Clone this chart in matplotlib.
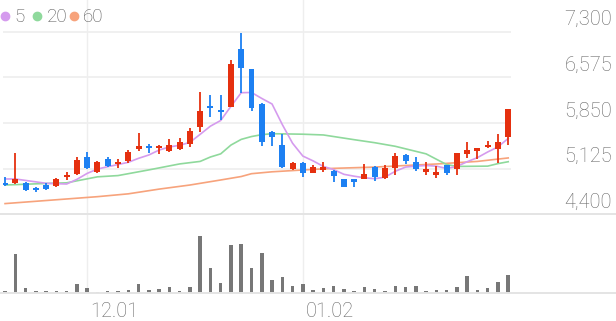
import matplotlib
matplotlib.use("Agg")
import matplotlib.pyplot as plt
from matplotlib.lines import Line2D
import numpy as np

# daily candles (price in won)
opens = [4900, 4890, 4900, 4820, 4860, 4850, 4990, 5040, 5315, 5075,
         5275, 5200, 5240, 5435, 5490, 5450, 5405, 5435, 5510, 5790,
         6115, 6060, 6105, 7020, 6710, 6150, 5710, 5500, 5120, 5220,
         5060, 5105, 5090, 4965, 4955, 4965, 5145, 4970, 5130, 5345,
         5225, 5075, 5025, 5185, 5120, 5360, 5410, 5475, 5435, 5625]
highs = [4990, 5380, 4910, 4840, 4890, 4970, 5070, 5305, 5395, 5250,
         5305, 5275, 5420, 5685, 5520, 5495, 5595, 5605, 5775, 6345,
         6295, 6295, 6845, 7275, 6715, 6165, 5720, 5675, 5235, 5225,
         5185, 5235, 5100, 4965, 4960, 5200, 5165, 5185, 5380, 5350,
         5315, 5235, 5165, 5190, 5375, 5555, 5460, 5570, 5675, 6075]
lows = [4850, 4875, 4775, 4760, 4785, 4840, 4945, 5025, 5125, 5050,
        5155, 5130, 5215, 5405, 5370, 5355, 5395, 5425, 5475, 5710,
        5950, 5900, 6100, 6320, 6045, 5490, 5490, 5130, 5105, 5000,
        5050, 5075, 4920, 4835, 4830, 4955, 4935, 4955, 5025, 5200,
        5085, 5025, 4970, 5025, 5025, 5290, 5275, 5450, 5210, 5500]
closes = [4870, 4965, 4785, 4785, 4805, 4965, 5030, 5260, 5135, 5235,
          5165, 5235, 5395, 5490, 5450, 5490, 5500, 5555, 5725, 6040,
          6085, 6020, 6780, 6725, 6090, 5555, 5625, 5155, 5220, 5060,
          5155, 5155, 5015, 4840, 4920, 5040, 4990, 5130, 5325, 5250,
          5115, 5125, 5075, 5060, 5370, 5420, 5455, 5505, 5555, 6070]
# volume, thousand shares
volumes = [20, 390, 50, 20, 20, 20, 27, 90, 50, 17,
           20, 20, 33, 90, 30, 43, 60, 27, 67, 577,
           250, 103, 483, 490, 257, 400, 133, 167, 70, 97,
           30, 50, 70, 43, 27, 60, 47, 23, 70, 60,
           70, 27, 37, 33, 63, 177, 33, 50, 117, 183]

# moving averages
ma5 = [4961, 4961, 4938, 4915, 4892, 4886, 4881, 4955, 5050, 5119,
       5156, 5190, 5226, 5289, 5342, 5420, 5470, 5495, 5543, 5670,
       5800, 5890, 6115, 6331, 6335, 6240, 6152, 5825, 5528, 5325,
       5248, 5160, 5110, 5035, 5005, 4980, 4965, 4990, 5083, 5150,
       5165, 5175, 5165, 5128, 5160, 5235, 5300, 5390, 5470, 5605]
ma20_idx = [0, 4, 6, 9, 11, 14, 17, 19, 20, 21, 22, 23, 24, 25, 26, 29,
            31, 34, 36, 38, 41, 43, 44, 47, 48, 49]
ma20 = [4865, 4890, 4900, 4995, 5015, 5105, 5200, 5240, 5310, 5360, 5500,
        5590, 5635, 5665, 5680, 5672, 5660, 5585, 5537, 5480, 5360, 5190,
        5160, 5165, 5205, 5235]
ma60_idx = [0, 9, 12, 15, 18, 21, 23, 24, 26, 29, 32, 36, 39, 42, 46, 49]
ma60 = [4570, 4680, 4725, 4800, 4865, 4945, 5000, 5045, 5075, 5104, 5130,
        5150, 5175, 5199, 5240, 5295]

yticks = [4400, 5125, 5850, 6575, 7300]
date_idx = [8, 29]
date_labels = ["12.01", "01.02"]

RED = "#E5300F"
BLUE = "#1D80F2"
C5, C20, C60 = "#D59BEE", "#8FD99C", "#F7A37C"
GRID = "#EEEEEE"
TXT = "#666666"

plt.rcParams["font.family"] = ["Roboto", "DejaVu Sans"]

W, H = 616, 321
fig = plt.figure(figsize=(W / 100, H / 100), dpi=100)

# pixel geometry
left, right = 3, 511
price_bottom, vol_bottom = 214.3, 293.3
px_per_won = (214.3 - 31.7) / 2900.0

ax = fig.add_axes([left / W, (H - price_bottom) / H, (right - left) / W, price_bottom / H])
axv = fig.add_axes([left / W, (H - vol_bottom) / H, (right - left) / W,
                    (vol_bottom - price_bottom) / H], sharex=ax)

x = np.arange(len(opens))
o, c = np.array(opens), np.array(closes)
colors = np.where(c >= o, RED, BLUE)

for a in (ax, axv):
    for s in a.spines.values():
        s.set_visible(False)
    a.tick_params(left=False, bottom=False, labelleft=False, labelbottom=False)
    for d in date_idx:
        a.axvline(d, color=GRID, lw=1, zorder=0)

ax.set_ylim(4400, 4400 + price_bottom / px_per_won)
ax.set_xlim(-0.2, 49.27)
for v in yticks[1:]:
    ax.axhline(v, color=GRID, lw=1.2, zorder=0)

ax.plot(ma60_idx, ma60, color=C60, lw=1.2, zorder=1)
ax.plot(ma20_idx, ma20, color=C20, lw=1.2, zorder=1)
ax.plot(x, ma5, color=C5, lw=1.2, zorder=1)

ax.vlines(x, lows, highs, colors=colors, lw=1.3, zorder=2)
ax.bar(x, np.maximum(np.abs(c - o), 25), bottom=np.minimum(o, c), width=0.58,
       color=colors, lw=0, zorder=3)

axv.bar(x, volumes, width=0.34, color="#777777", lw=0)
axv.set_ylim(0, (vol_bottom - price_bottom) * 10)

# y labels sit just above their grid lines
for v in yticks:
    ax.annotate(f"{v:,}", xy=(1, v), xycoords=("axes fraction", "data"),
                xytext=(612 - right, 6.5), textcoords="offset pixels",
                ha="right", va="baseline", fontsize=14.4, color=TXT,
                fontweight="light", annotation_clip=False)

for d, lab in zip(date_idx, date_labels):
    axv.annotate(lab, xy=(d, 0), xycoords="data", xytext=(3, -23.4),
                 textcoords="offset pixels", ha="left", va="baseline",
                 fontsize=14.4, color=TXT, fontweight="light", annotation_clip=False)

# full-width separator lines
for yp in (price_bottom, vol_bottom):
    fig.add_artist(Line2D([0, 1], [(H - yp) / H] * 2, color="#E4E4E4", lw=1.4,
                          transform=fig.transFigure))

# legend
for cx, tx, col, lab in [(4.5, 14, C5, "5"), (37, 46.5, C20, "20"), (74, 83, C60, "60")]:
    fig.add_artist(Line2D([cx / W], [(H - 16) / H], marker="o", markersize=6,
                          color=col, lw=0, transform=fig.transFigure))
    fig.text(tx / W, (H - 21.7) / H, lab, fontsize=13.5, color="#555555",
             ha="left", va="baseline", fontweight="light")

fig.savefig("out.png", dpi=100)
